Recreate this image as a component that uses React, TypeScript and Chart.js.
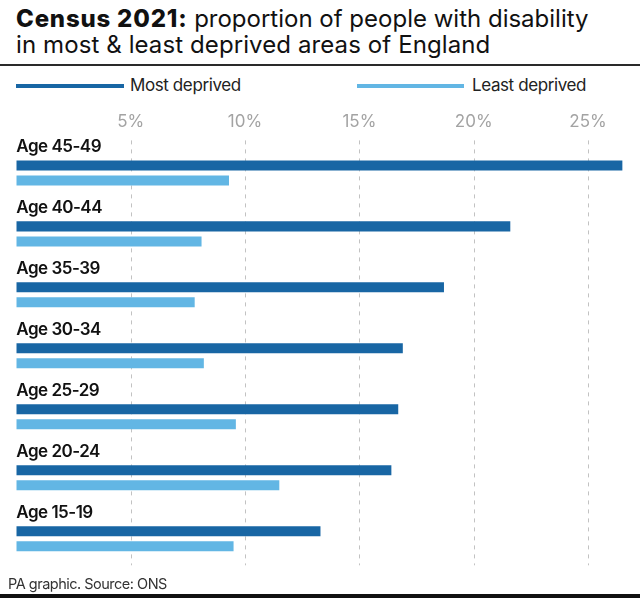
import React, { useEffect, useRef } from "react";
import { Chart, registerables } from "chart.js";

Chart.register(...registerables);

const categories = ["Age 45-49", "Age 40-44", "Age 35-39", "Age 30-34", "Age 25-29", "Age 20-24", "Age 15-19"];
const mostDeprived = [26.5, 21.6, 18.7, 16.9, 16.7, 16.4, 13.3];
const leastDeprived = [9.3, 8.1, 7.8, 8.2, 9.6, 11.5, 9.5];
const seriesNames = ["Most deprived", "Least deprived"];
const tickValues = [5, 10, 15, 20, 25];

const DARK = "#1866a4";
const LIGHT = "#62b6e4";
const FONT = "Inter, 'Liberation Sans', sans-serif";

const dashedGridPlugin = {
  id: "dashedGrid",
  beforeDatasetsDraw(chart: any) {
    const { ctx, chartArea, scales } = chart;
    const x = scales.x;
    ctx.save();
    ctx.strokeStyle = "#c2c2c2";
    ctx.lineWidth = 1;
    ctx.setLineDash([4, 5]);
    x.ticks.forEach((t: any) => {
      if (!tickValues.includes(t.value)) return;
      const px = Math.round(x.getPixelForValue(t.value)) + 0.5;
      ctx.beginPath();
      ctx.moveTo(px, chartArea.top - 2);
      ctx.lineTo(px, chartArea.bottom - 4);
      ctx.stroke();
    });
    ctx.restore();
  },
};

const categoryLabelPlugin = {
  id: "categoryLabels",
  afterDatasetsDraw(chart: any) {
    const { ctx, chartArea, scales } = chart;
    const y = scales.y;
    ctx.save();
    ctx.font = `600 17px ${FONT}`;
    (ctx as any).letterSpacing = "-0.5px";
    ctx.fillStyle = "#111";
    ctx.textAlign = "left";
    ctx.textBaseline = "alphabetic";
    chart.data.labels.forEach((lab: string, i: number) => {
      const py = y.getPixelForValue(i);
      ctx.fillText(lab, chartArea.left, py - 21);
    });
    ctx.restore();
  },
};

export default function App() {
  const ref = useRef<HTMLCanvasElement>(null);

  useEffect(() => {
    if (!ref.current) return;
    const chart = new Chart(ref.current, {
      type: "bar",
      data: {
        labels: categories,
        datasets: [
          { label: seriesNames[0], data: mostDeprived, backgroundColor: DARK, borderWidth: 0, categoryPercentage: 0.492, barPercentage: 0.667 },
          { label: seriesNames[1], data: leastDeprived, backgroundColor: LIGHT, borderWidth: 0, categoryPercentage: 0.492, barPercentage: 0.667 },
        ],
      },
      options: {
        indexAxis: "y",
        animation: false,
        responsive: false,
        maintainAspectRatio: false,
        layout: { padding: { left: 16.3, right: 6.2, top: 102, bottom: 28.7 } },
        plugins: {
          legend: { display: false },
          tooltip: { enabled: false },
          title: { display: false },
        },
        scales: {
          x: {
            position: "top",
            min: 0,
            max: 27,
            grid: { display: false, drawTicks: false },
            border: { display: false },
            ticks: {
              stepSize: 5,
              includeBounds: false,
              padding: 10,
              color: "#a3a3a3",
              font: { family: FONT, size: 17 },
              callback: (v: any) => (tickValues.includes(Number(v)) ? `${v}%` : ""),
            },
          },
          y: {
            type: "category",
            display: false,
          },
        },
      },
      plugins: [dashedGridPlugin, categoryLabelPlugin],
    });
    return () => chart.destroy();
  }, []);

  return (
    <div style={{ position: "absolute", left: 0, top: 0, width: 640, height: 598, background: "#fff", overflow: "hidden", fontFamily: FONT }}>
      <div style={{ position: "absolute", left: 16, top: 5.5, fontSize: 24, lineHeight: "26px", color: "#111", whiteSpace: "nowrap" }}>
        <div><b style={{ fontWeight: 800, letterSpacing: "0.8px" }}>Census 2021:</b> proportion of people with disability</div>
        <div style={{ letterSpacing: "0.1px" }}>in most &amp; least deprived areas of England</div>
      </div>
      <div style={{ position: "absolute", left: 0, top: 64, width: 640, height: 2, background: "#2a2a2a" }} />
      <div style={{ position: "absolute", left: 16, top: 83.5, width: 108, height: 4, background: DARK }} />
      <div style={{ position: "absolute", left: 130, top: 74, fontSize: 17, lineHeight: "22px", letterSpacing: "-0.4px", color: "#222", whiteSpace: "nowrap" }}>{seriesNames[0]}</div>
      <div style={{ position: "absolute", left: 356.5, top: 83.5, width: 107.5, height: 4, background: LIGHT }} />
      <div style={{ position: "absolute", left: 472, top: 74, fontSize: 17, lineHeight: "22px", letterSpacing: "-0.4px", color: "#222", whiteSpace: "nowrap" }}>{seriesNames[1]}</div>
      <canvas ref={ref} width={640} height={598} style={{ position: "absolute", left: 0, top: 0, width: 640, height: 598 }} />
      <div style={{ position: "absolute", left: 8, top: 574, fontSize: 14.5, lineHeight: "20px", letterSpacing: "-0.5px", color: "#333", whiteSpace: "nowrap" }}>PA graphic. Source: ONS</div>
      <div style={{ position: "absolute", left: 0, top: 594, width: 640, height: 4, background: "#111" }} />
    </div>
  );
}
